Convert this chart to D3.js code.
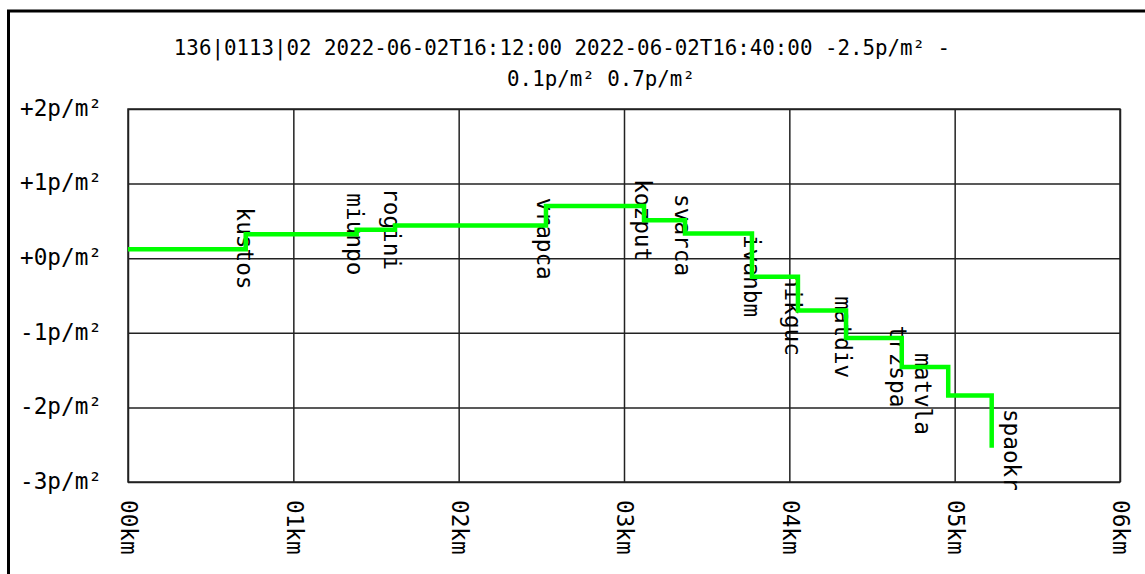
<!DOCTYPE html>
<html>
<head>
<meta charset="utf-8">
<script src="https://cdn.jsdelivr.net/npm/d3@7"></script>
<style>
  body { margin: 0; background: #fff; }
  text { font-family: "DejaVu Sans Mono", monospace; fill: #000; }
</style>
</head>
<body>
<div id="chart"></div>
<script>
//Data
var titleLines = ["136|0113|02 2022-06-02T16:12:00 2022-06-02T16:40:00 -2.5p/m² -", "0.1p/m² 0.7p/m²"];
var xTicks = [0, 1, 2, 3, 4, 5, 6];
var yTicks = [-3, -2, -1, 0, 1, 2];

// step line: distance (km) and value (p/m²) after each change
var stepKm  = [0, 0.712, 1.383, 1.615, 2.528, 3.121, 3.369, 3.774, 4.052, 4.343, 4.680, 4.961, 5.224];
var stepVal = [0.12, 0.32, 0.38, 0.44, 0.70, 0.51, 0.33, -0.25, -0.70, -1.07, -1.46, -1.84, -2.54];

// station labels
var stationNames = ["kustos", "miunpo", "rogini", "vrapca", "kozput", "svarca", "ivanbm", "nikguc", "matdiv", "trzspa", "matvla", "spaokr"];
var stationKm    = [0.703, 1.368, 1.590, 2.517, 3.112, 3.354, 3.767, 4.019, 4.322, 4.654, 4.804, 5.340];
var stationVal   = [0.13, 0.32, 0.39, 0.26, 0.51, 0.31, -0.24, -0.76, -1.06, -1.45, -1.82, -2.57];

var margin = {top: 109, left: 128};
var width = 992, height = 373;

var svg = d3.select("#chart").append("svg")
    .attr("width", 1145)
    .attr("height", 574);

// outer frame (only top/left visible in the window)
svg.append("rect")
    .attr("x", 8.5).attr("y", 11)
    .attr("width", 1400).attr("height", 1000)
    .attr("fill", "none")
    .attr("stroke", "#000")
    .attr("stroke-width", 3);

// title
svg.selectAll(".title")
    .data(titleLines)
    .enter().append("text")
    .attr("class", "title")
    .attr("x", function(d, i){ return i == 0 ? 562 : 601; })
    .attr("y", function(d, i){ return 55 + i * 31; })
    .attr("text-anchor", "middle")
    .style("font-size", "20.8px")
    .text(function(d){ return d; });

var g = svg.append("g")
    .attr("transform", "translate(" + margin.left + "," + margin.top + ")");

var x = d3.scaleLinear().domain([0, 6]).range([0, width]);
var y = d3.scaleLinear().domain([-3, 2]).range([height, 0]);

var fmtY = function(d){ return (d >= 0 ? "+" : "") + d + "p/m²"; };
var fmtX = function(d){ return d3.format("02d")(d) + "km"; };

// y axis with grid
var yAxis = g.append("g")
    .call(d3.axisLeft(y).tickValues(yTicks).tickFormat(fmtY)
        .tickSizeInner(-width).tickSizeOuter(0).tickPadding(26));
yAxis.select(".domain").remove();
yAxis.selectAll(".tick line").attr("stroke", "#222").attr("stroke-width", 1.5);
yAxis.selectAll(".tick text")
    .style("font-size", "22.7px")
    .attr("fill", "#000")
    .attr("dy", "0.28em");

// x axis with grid
var xAxis = g.append("g")
    .attr("transform", "translate(0," + height + ")")
    .call(d3.axisBottom(x).tickValues(xTicks).tickFormat(fmtX)
        .tickSizeInner(-height).tickSizeOuter(0).tickPadding(18));
xAxis.select(".domain").remove();
xAxis.selectAll(".tick line").attr("stroke", "#222").attr("stroke-width", 1.5);
xAxis.selectAll(".tick text")
    .style("font-size", "22.7px")
    .attr("fill", "#000")
    .attr("text-anchor", "start")
    .attr("transform", "rotate(90)")
    .attr("x", 18)
    .attr("y", 0)
    .attr("dy", "0.32em");

// plot border
g.append("rect")
    .attr("width", width).attr("height", height)
    .attr("fill", "none")
    .attr("stroke", "#222")
    .attr("stroke-width", 1.5);

// station labels
g.selectAll(".station")
    .data(stationNames)
    .enter().append("text")
    .attr("class", "station")
    .attr("text-anchor", "middle")
    .attr("dy", "0.32em")
    .style("font-size", "22.7px")
    .attr("transform", function(d, i){
        return "translate(" + x(stationKm[i]) + "," + y(stationVal[i]) + ") rotate(90)";
    })
    .text(function(d){ return d; });

// step line
var line = d3.line()
    .x(function(d, i){ return x(stepKm[i]); })
    .y(function(d){ return y(d); })
    .curve(d3.curveStepAfter);

g.append("path")
    .datum(stepVal)
    .attr("d", line)
    .attr("fill", "none")
    .attr("stroke", "#00ff00")
    .attr("stroke-width", 4.5);
</script>
</body>
</html>
